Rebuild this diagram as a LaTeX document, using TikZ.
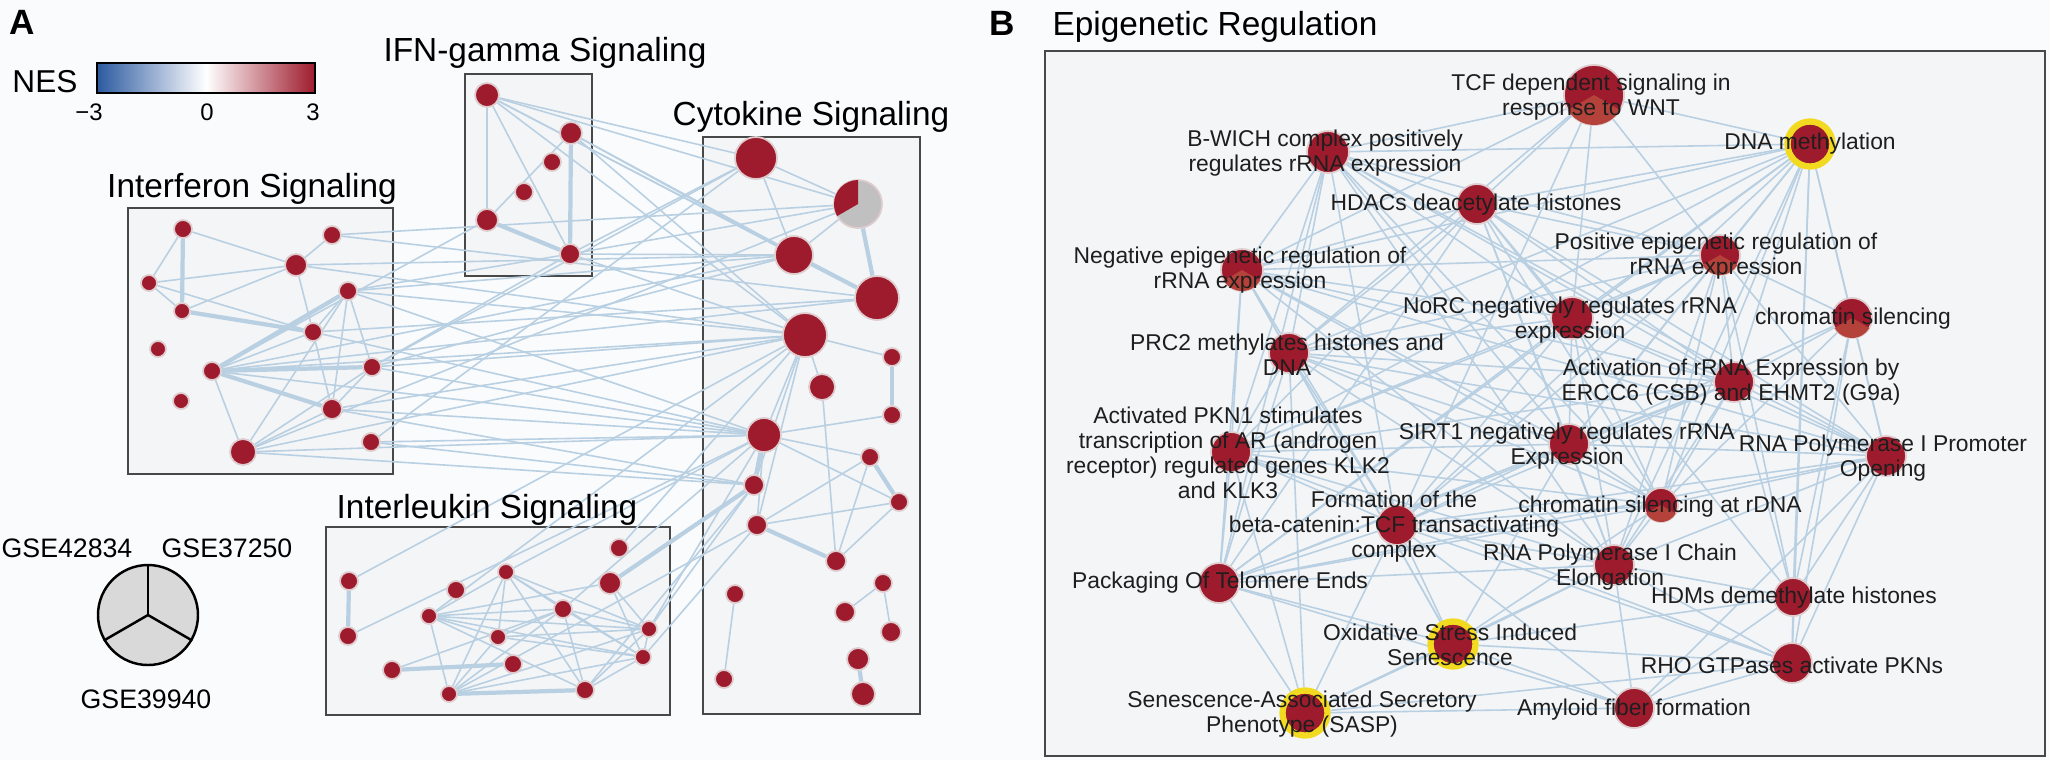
\documentclass[tikz,border=0pt]{standalone}
\usepackage{fontspec}
\setmainfont{Liberation Sans}

\definecolor{nodered}{RGB}{158,27,45}
\definecolor{lite}{RGB}{180,66,58}
\definecolor{edgeblue}{RGB}{184,208,226}
\definecolor{boxline}{RGB}{72,72,72}
\definecolor{boxfill}{RGB}{244,245,247}
\definecolor{bgcol}{RGB}{250,251,253}
\definecolor{piegray}{RGB}{217,217,217}
\definecolor{cgray}{RGB}{192,192,192}
\definecolor{ringc}{RGB}{222,204,206}
\definecolor{yel}{RGB}{242,218,32}
\definecolor{nesblue}{RGB}{44,90,160}
\definecolor{textc}{RGB}{30,30,30}

\pgfdeclarelayer{bg}
\pgfdeclarelayer{edges}
\pgfsetlayers{bg,edges,main}

\tikzset{
  dot/.style={circle, fill=nodered, draw=ringc, line width=0.5pt, inner sep=0pt},
  hl/.style={dot, draw=yel, line width=1.8pt},
  ln/.style={draw=edgeblue, line width=0.45pt},
  tk/.style={ln, line width=1.2pt},
  panel/.style={draw=boxline, line width=0.8pt, fill=boxfill},
  title/.style={font=\fontsize{9.5}{11}\selectfont, inner sep=0pt},
  small/.style={font=\fontsize{7.6}{9}\selectfont, inner sep=0pt},
  tick/.style={font=\fontsize{6.8}{8}\selectfont, inner sep=0pt},
  lbl/.style={font=\fontsize{6.5}{7.1}\selectfont, align=center, inner sep=0pt, text=textc},
  tag/.style={font=\fontsize{10}{12}\selectfont\bfseries, inner sep=0pt}
}

\begin{document}
\begin{tikzpicture}[x=0.1mm, y=-0.1mm]
\useasboundingbox (0,0) rectangle (2050,760);

\begin{pgfonlayer}{bg}
\fill[bgcol] (0,0) rectangle (2050,760);
\draw[panel] (128,208) rectangle (393,474);
\draw[panel] (465,74) rectangle (592,276);
\draw[panel] (326,527) rectangle (670,715);
\draw[panel] (703,137) rectangle (920,714);
\draw[panel] (1045,51) rectangle (2045,756);
\end{pgfonlayer}

% panel A
\node[tag] (tagA) at (22,22) {A};
\node[font=\fontsize{9}{11}\selectfont, inner sep=0pt] (nes) at (45,82) {NES};
\shade[left color=nesblue, right color=white] (97,63) rectangle (206,93);
\shade[left color=white, right color=nodered] (206,63) rectangle (315,93);
\draw[line width=0.5pt] (97,63) rectangle (315,93);
\node[tick] (tm) at (89,112) {−3};
\node[tick] (tz) at (207,112) {0};
\node[tick] (tp) at (313,112) {3};

\node[title] (ifnt) at (545,53) {IFN-gamma Signaling};
\node[title] (infert) at (252,189) {Interferon Signaling};
\node[title] (cytot) at (811,117) {Cytokine Signaling};
\node[title] (ilt) at (487,510) {Interleukin Signaling};

% legend
\node[circle, draw=black, line width=0.7pt, fill=piegray, minimum size=10mm, inner sep=0pt] (leg) at (148,615) {};
\draw[line width=0.7pt] (leg.center) -- (leg.90);
\draw[line width=0.7pt] (leg.center) -- (leg.210);
\draw[line width=0.7pt] (leg.center) -- (leg.330);
\node[small] (gse1) at (67,548) {GSE42834};
\node[small] (gse2) at (227,548) {GSE37250};
\node[small] (gse3) at (146,699) {GSE39940};

\foreach \n/\x/\y/\r in {
  g1/487/95/12, g2/571/133/11, g3/552/162/9, g4/524/192/9, g5/487/220/11, g6/570/254/10,
  i1/183/229/9, i2/332/235/9, i3/296/265/11, i4/149/283/8, i5/348/291/9, i6/182/311/8,
  i7/313/332/9, i8/158/349/8, i9/212/371/9, i10/372/367/9, i11/181/401/8, i12/332/409/10,
  i13/243/452/13, i14/371/442/9,
  b1/349/581/9, b2/348/636/9, b3/456/590/9, b4/429/616/8, b5/506/572/8, b6/498/637/8,
  b7/513/664/9, b8/392/670/9, b9/449/694/8, b10/619/548/9, b11/610/583/11, b12/563/609/9,
  b13/649/629/8, b14/643/657/8, b15/585/690/9,
  c1/756/158/21, c3/794/255/19, c4/877/298/22, c5/805/335/22, c6/892/357/9,
  c7/822/387/13, c8/892/415/9, c9/764/435/17, c10/870/457/9, c11/754/485/10, c12/899/502/9,
  c13/757/525/10, c14/836/561/10, c15/883/583/9, c16/735/594/9, c17/845/612/10,
  c18/891/632/10, c19/858/659/11, c20/724/679/9, c21/863/694/12}
  \node[dot, minimum size=\r*0.2mm] (\n) at (\x,\y) {};
\node[dot, fill=cgray, minimum size=4.8mm] (c2) at (858,204) {};
\fill[nodered] (c2.center) -- ++(90:2.4mm) arc[start angle=90, end angle=210, radius=2.4mm] -- cycle;

% panel B
\node[tag] (tagB) at (1002,23) {B};
\node[title] (epit) at (1215,27) {Epigenetic Regulation};

\foreach \n/\x/\y/\r in {
  tcf/1594/95/30, bwich/1328/152/21, hdac/1477/204/20, neg/1242/270/21, pos/1720/255/20,
  norc/1572/318/21, chrom/1852/318/20, prc/1289/353/20, act/1734/382/20, pkn/1231/452/20,
  sirt/1569/444/20, prom/1886/456/20, chr2/1661/505/17, form/1397/525/20, chain/1614/565/20,
  pack/1219/583/20, hdm/1793/597/19, rho/1792/663/20, amy/1634/708/20}
  \node[dot, minimum size=\r*0.2mm] (\n) at (\x,\y) {};
\foreach \n/\x/\y in {dnam/1810/144, ox/1453/644, sasp/1305/713}
  \node[hl, minimum size=4.5mm] (\n) at (\x,\y) {};
\foreach \n/\r in {tcf/3, chrom/2, chr2/1.7, neg/2.1, pos/2}
  \fill[lite] (\n.center) -- ++(210:\r mm) arc[start angle=210, end angle=330, radius=\r mm] -- cycle;

\begin{pgfonlayer}{edges}
\foreach \a/\b in {g1/g5, g1/g6, g5/g2, g1/c1, g1/c2, g1/c3, g1/c4, g1/c5, g2/c3, g2/c4, g2/c5,
  g6/c1, g6/c2, g6/c3, g6/c5, g5/i9, i5/g6, i10/g6,
  i1/i4, i1/i3, i4/i3, i4/i7, i6/i3, i2/i3, i4/i6, i5/i10, i5/i12, i5/i13, i9/i13, i13/i12,
  i13/i10, i12/i10, i7/i12, i5/i7, i9/i7, i3/i7,
  i2/c2, i2/c4, i3/c5, i3/c3, i5/c3, i5/c5, i5/c9, i7/c4, i10/c1, i10/c3, i10/c5, i10/c9,
  i9/c5, i9/c3, i12/c5, i12/c9, i13/c2, i13/c5, i13/c9, i14/c1, i14/c9, i14/c11, i9/c4,
  i12/c11, i13/c11, i9/c9, i7/c9,
  b4/b5, b4/b12, b4/b13, b4/b14, b4/b15, b4/b6, b4/b11, b4/b9, b5/b9, b5/b12, b5/b13,
  b5/b14, b5/b15, b5/b6, b6/b13, b6/b14, b6/b12, b6/b9, b8/b12, b9/b13, b9/b14, b11/b14,
  b11/b13, b12/b13, b12/b14, b12/b15, b15/b13, b15/b14, b13/b14, b9/b12,
  b1/c5, b2/c9, b10/c5, b13/c11, b14/c13, b13/c9, b12/c9, b5/c9, b4/c5, c11/b15, c13/b9,
  c1/c2, c2/c3, c1/c3, c5/c6, c5/c7, c5/c9, c5/c11, c5/c13, c9/c8, c9/c10, c9/c12, c9/c13,
  c7/c14, c10/c13, c10/c14, c13/c12, c12/c14, c15/c17, c15/c18, c16/c20}
  \draw[ln] (\a) -- (\b);
\foreach \a/\b in {g2/g6, g5/g6, i1/i6, i6/i7, i9/i10, i9/i12, i5/i9, b1/b2, b8/b7,
  b9/b15, b11/c11, c2/c4, c3/c4, c6/c8, c9/c11, c10/c12, c13/c14, c19/c21}
  \draw[tk] (\a) -- (\b);

\foreach \a/\b in {dnam/tcf, dnam/bwich, dnam/hdac, dnam/neg, dnam/pos, dnam/norc, dnam/chrom,
  dnam/prc, dnam/act, dnam/pkn, dnam/sirt, dnam/prom, dnam/chr2, dnam/form, dnam/chain,
  dnam/pack, dnam/hdm, dnam/rho,
  tcf/bwich, tcf/hdac, tcf/norc, tcf/pos, tcf/form, tcf/prc, tcf/neg,
  bwich/neg, bwich/prc, bwich/pkn, bwich/hdac, bwich/norc, bwich/pos, bwich/act, bwich/sirt,
  bwich/chr2, bwich/chain, bwich/form, bwich/pack, bwich/prom,
  hdac/neg, hdac/prc, hdac/pkn, hdac/norc, hdac/pos, hdac/act, hdac/sirt, hdac/chr2,
  hdac/chain, hdac/pack, hdac/prom, hdac/hdm,
  neg/prc, neg/pkn, neg/norc, neg/pos, neg/act, neg/sirt, neg/chr2, neg/chain, neg/form,
  neg/pack, neg/prom, neg/ox,
  pos/prc, pos/norc, pos/act, pos/sirt, pos/chr2, pos/chain, pos/prom, pos/chrom, pos/form,
  pos/pkn, pos/hdm,
  norc/prc, norc/act, norc/sirt, norc/chr2, norc/chain, norc/prom, norc/pkn, norc/form, norc/pack,
  chrom/act, chrom/prom, chrom/hdm, chrom/chr2, chrom/sirt, chrom/rho,
  prc/act, prc/sirt, prc/chr2, prc/chain, prc/pkn, prc/form, prc/pack, prc/prom, prc/ox, prc/sasp,
  act/sirt, act/chr2, act/chain, act/prom, act/form, act/pkn, act/pack, act/hdm,
  pkn/sirt, pkn/form, pkn/pack, pkn/chr2, pkn/chain, pkn/sasp, pkn/rho,
  sirt/prom, sirt/chr2, sirt/chain, sirt/form, sirt/pack, sirt/ox,
  prom/chr2, prom/chain, prom/form, prom/hdm, prom/rho, prom/amy, prom/pack,
  chr2/chain, chr2/form, chr2/pack, chr2/ox,
  form/chain, form/pack, form/ox, form/sasp, form/rho, form/amy,
  chain/pack, chain/ox, chain/sasp, chain/amy, chain/rho, chain/hdm,
  pack/ox, pack/sasp, pack/amy, hdm/rho, hdm/amy, hdm/ox,
  ox/sasp, ox/amy, ox/rho, sasp/amy, sasp/rho, rho/amy}
  \draw[ln] (\a) -- (\b);
\end{pgfonlayer}

\node[lbl] (tcf-l) at (1591,97) {TCF dependent signaling in\\response to WNT};
\node[lbl] (dnam-l) at (1810,144) {DNA methylation};
\node[lbl] (bwich-l) at (1325,153) {B-WICH complex positively\\regulates rRNA expression};
\node[lbl] (hdac-l) at (1476,205) {HDACs deacetylate histones};
\node[lbl] (neg-l) at (1240,270) {Negative epigenetic regulation of\\rRNA expression};
\node[lbl] (pos-l) at (1716,256) {Positive epigenetic regulation of\\rRNA expression};
\node[lbl] (norc-l) at (1570,320) {NoRC negatively regulates rRNA\\expression};
\node[lbl] (chrom-l) at (1853,319) {chromatin silencing};
\node[lbl] (prc-l) at (1287,355) {PRC2 methylates histones and\\DNA};
\node[lbl] (act-l) at (1731,382) {Activation of rRNA Expression by\\ERCC6 (CSB) and EHMT2 (G9a)};
\node[lbl] (pkn-l) at (1228,453) {Activated PKN1 stimulates\\transcription of AR (androgen\\receptor) regulated genes KLK2\\and KLK3};
\node[lbl] (sirt-l) at (1567,446) {SIRT1 negatively regulates rRNA\\Expression};
\node[lbl] (prom-l) at (1883,458) {RNA Polymerase I Promoter\\Opening};
\node[lbl] (chr2-l) at (1660,507) {chromatin silencing at rDNA};
\node[lbl] (form-l) at (1394,527) {Formation of the\\beta-catenin:TCF transactivating\\complex};
\node[lbl] (chain-l) at (1610,567) {RNA Polymerase I Chain\\Elongation};
\node[lbl] (pack-l) at (1220,583) {Packaging Of Telomere Ends};
\node[lbl] (hdm-l) at (1794,598) {HDMs demethylate histones};
\node[lbl] (ox-l) at (1450,645) {Oxidative Stress Induced\\Senescence};
\node[lbl] (rho-l) at (1792,665) {RHO GTPases activate PKNs};
\node[lbl] (amy-l) at (1634,710) {Amyloid fiber formation};
\node[lbl] (sasp-l) at (1302,714) {Senescence-Associated Secretory\\Phenotype (SASP)};
\end{tikzpicture}
\end{document}
